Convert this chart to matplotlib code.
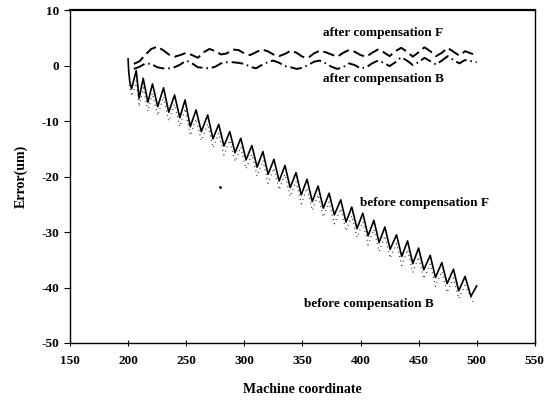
import matplotlib
matplotlib.use('Agg')
import matplotlib.pyplot as plt

# before compensation F (solid): start, then alternating trough / peak readings
bf_x = [200, 200.5, 201.5, 203, 205, 207,
        209.5, 213, 217, 221, 225.5, 230.5, 235, 240, 244.5, 249, 253.5, 258.5,
        263, 268.5, 273, 278, 282.5, 287.5, 292, 297, 301.5, 306.5, 311, 316,
        320.5, 325.5, 330, 335, 339.5, 344.5, 349, 354, 358.5, 363.5, 368, 373,
        377.5, 383, 387.5, 392.5, 397, 402, 406.5, 411.5, 416, 421, 425.5, 431,
        435.5, 440.5, 445, 450, 454.5, 460, 464.5, 470, 474.5, 480, 484.5, 490,
        495, 500]
bf_y = [1.2, -1.0, -3.0, -4.2, -2.5, -0.9,
        -5.9, -2.3, -6.6, -3.3, -7.4, -4.0, -8.4, -5.3, -9.4, -6.2, -11.0, -8.0,
        -11.9, -8.9, -13.2, -10.6, -14.5, -11.9, -15.7, -13.1, -17.0, -14.4, -18.3, -15.5,
        -19.6, -16.9, -20.8, -18.0, -22.0, -19.3, -23.3, -20.5, -24.5, -21.7, -25.7, -23.0,
        -26.9, -24.2, -28.2, -25.5, -29.4, -26.6, -30.7, -27.9, -31.9, -29.1, -33.1, -30.5,
        -34.4, -31.6, -35.7, -32.9, -36.8, -34.2, -38.2, -35.5, -39.3, -36.7, -40.6, -38.0,
        -41.6, -39.7]

# before compensation B (dotted), a little below F
bb_x = [201, 203, 205, 207,
        209.5, 213, 217, 221, 225.5, 230.5, 235, 240, 244.5, 249, 253.5, 258.5,
        263, 268.5, 273, 278, 282.5, 287.5, 292, 297, 301.5, 306.5, 311, 316,
        320.5, 325.5, 330, 335, 339.5, 344.5, 349, 354, 358.5, 363.5, 368, 373,
        377.5, 383, 387.5, 392.5, 397, 402, 406.5, 411.5, 416, 421, 425.5, 431,
        435.5, 440.5, 445, 450, 454.5, 460, 464.5, 470, 474.5, 480, 484.5, 490,
        497]
bb_y = [-3.5, -5.5, -4.5, -2.8,
        -7.4, -4.0, -8.2, -5.0, -9.0, -5.6, -10.0, -7.0, -11.0, -7.8, -12.6, -9.6,
        -13.5, -10.5, -14.8, -12.2, -16.1, -13.5, -17.3, -14.7, -18.6, -16.0, -19.9, -17.1,
        -21.2, -18.5, -22.4, -19.6, -23.6, -20.9, -24.9, -22.1, -26.1, -23.3, -27.3, -24.6,
        -28.5, -25.8, -29.8, -27.1, -31.0, -28.2, -32.3, -29.5, -33.5, -30.7, -34.7, -32.1,
        -36.0, -33.2, -37.3, -34.5, -38.4, -35.8, -39.8, -37.1, -40.9, -38.3, -42.0, -39.6,
        -42.6]

# stray point of B
stray_x = [279]
stray_y = [-21.9]

# after compensation, readings every 5 units
af_x = list(range(205, 501, 5))
af_y = [0.3, 0.8, 2.0, 3.0, 3.4, 2.8, 2.0, 1.6, 1.9, 2.3, 1.9, 1.4, 2.4, 3.0, 2.6,
        2.0, 2.2, 2.9, 2.8, 2.2, 1.9, 2.4, 2.9, 2.6, 2.0, 1.7, 2.1, 2.7, 2.3, 1.6,
        1.4, 2.2, 2.7, 2.4, 2.0, 1.6, 2.3, 2.8, 2.5, 1.9, 1.6, 2.3, 2.9, 2.4, 1.7,
        2.6, 3.2, 2.5, 1.6, 2.4, 3.3, 2.6, 1.7, 2.3, 3.2, 2.5, 1.8, 2.6, 2.2, 1.9]
ab_y = [-0.6, -0.2, 0.4, 0.3, -0.3, -0.5, -0.5, -0.3, 0.2, 0.9, 0.4, -0.3, -0.4, -0.5, -0.2,
        0.4, 0.6, 0.6, 0.5, 0.3, -0.2, -0.5, 0.1, 0.6, 0.9, 0.5, -0.1, -0.3, -0.6, -0.4,
        0.1, 0.7, 0.9, 0.4, -0.2, -0.6, -0.3, 0.4, 0.1, -0.5, -0.3, 0.4, 0.9, 0.5, -0.1,
        0.6, 1.5, 0.9, 0.1, 0.6, 1.4, 0.8, 0.2, 0.9, 1.7, 1.0, 0.4, 1.0, 0.8, 0.6]

x_ticks = [150, 200, 250, 300, 350, 400, 450, 500, 550]
y_ticks = [10, 0, -10, -20, -30, -40, -50]

plt.rcParams['font.family'] = ['Liberation Serif', 'DejaVu Serif']
plt.rcParams['font.weight'] = 'bold'
plt.rcParams['axes.unicode_minus'] = False

fig = plt.figure(figsize=(5.6, 4.04), dpi=100)
ax = fig.add_axes([0.125, 0.151, 0.83, 0.824])

ax.plot(bf_x, bf_y, color='black', lw=1.2, solid_joinstyle='round')
ax.plot(bb_x, bb_y, color='black', lw=0.9, linestyle=(0, (0.6, 3.0)))
ax.plot(stray_x, stray_y, 'k.', ms=2)
ax.plot(af_x, af_y, color='black', lw=1.4, linestyle=(0, (6, 2.5)))
ax.plot(af_x, ab_y, color='black', lw=1.4, linestyle=(0, (6, 2, 0.8, 2)))

txt = dict(fontsize=9.5, fontweight='bold', va='center', ha='left')
ax.text(368, 5.9, 'after compensation F', **txt)
ax.text(368, -2.4, 'after compensation B', **txt)
ax.text(400, -24.8, 'before compensation F', **txt)
ax.text(351, -43.0, 'before compensation B', **txt)

ax.set_xlim(150, 550)
ax.set_ylim(-50, 10)
ax.set_xticks(x_ticks)
ax.set_yticks(y_ticks)
ax.tick_params(axis='x', direction='inout', length=5, labelsize=9.5, pad=6)
ax.tick_params(axis='y', direction='out', length=4, labelsize=9.5)
for s in ax.spines.values():
    s.set_linewidth(1.0)
ax.spines['top'].set_linewidth(1.6)

ax.set_xlabel('Machine coordinate', fontsize=10, fontweight='bold', labelpad=12)
ax.set_ylabel('Error(um)', fontsize=10, fontweight='bold', labelpad=10)

fig.savefig('out.png', dpi=100)
